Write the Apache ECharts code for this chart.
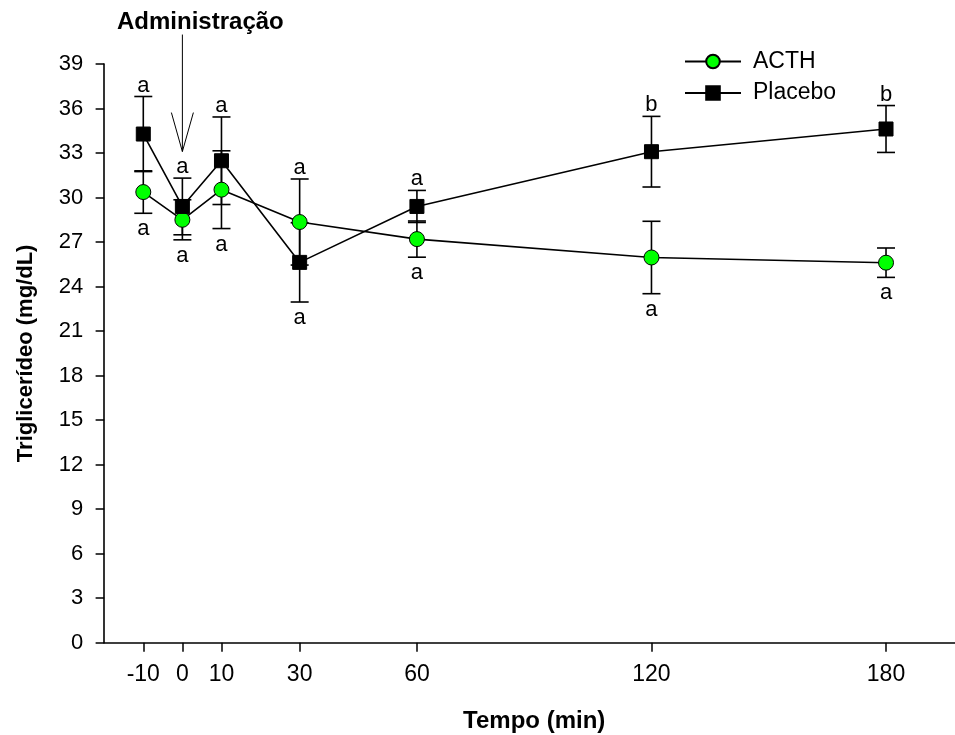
<!DOCTYPE html>
<html>
<head>
<meta charset="utf-8">
<script src="https://cdn.jsdelivr.net/npm/echarts@6/dist/echarts.min.js"></script>
<style>
html,body{margin:0;padding:0;background:#fff;}
#chart{width:955px;height:735px;}
</style>
</head>
<body>
<div id="chart"></div>
<script>
// ---- data ----
const times = [-10, 0, 10, 30, 60, 120, 180];
const acthMean = [30.37, 28.5, 30.53, 28.35, 27.2, 25.96, 25.61];
const acthErr = [1.43, 1.35, 2.62, 2.9, 1.22, 2.44, 0.99];
const placeboMean = [34.28, 29.4, 32.48, 25.63, 29.4, 33.09, 34.62];
const placeboErr = [2.53, 1.91, 2.95, 2.67, 1.08, 2.38, 1.58];
const topLetters = ['a', 'a', 'a', 'a', 'a', 'b', 'b'];
const bottomLetters = ['a', 'a', 'a', 'a', 'a', 'a', 'a'];
const xTicks = [-10, 0, 10, 30, 60, 120, 180];
const yTickStep = 3;
const annotationText = 'Administração';
const annotationPoint = [0, 33.1];

const FONT = '"Liberation Sans", Arial, sans-serif';

const chart = echarts.init(document.getElementById('chart'), null, {renderer: 'canvas'});

function errSeries(name, mean, err) {
  return {
    type: 'custom',
    name: name + ' err',
    clip: false,
    silent: true,
    data: times.map((t, i) => [t, mean[i] - err[i], mean[i] + err[i]]),
    encode: {x: 0, y: [1, 2]},
    renderItem: function (params, api) {
      const x = api.value(0);
      const lo = api.coord([x, api.value(1)]);
      const hi = api.coord([x, api.value(2)]);
      const w = 9;
      const st = {stroke: '#000', lineWidth: 1.6};
      return {
        type: 'group',
        children: [
          {type: 'line', shape: {x1: lo[0], y1: lo[1], x2: hi[0], y2: hi[1]}, style: st},
          {type: 'line', shape: {x1: hi[0] - w, y1: hi[1], x2: hi[0] + w, y2: hi[1]}, style: st},
          {type: 'line', shape: {x1: lo[0] - w, y1: lo[1], x2: lo[0] + w, y2: lo[1]}, style: st}
        ]
      };
    }
  };
}

const letterData = times.map((t, i) => [
  t,
  Math.max(acthMean[i] + acthErr[i], placeboMean[i] + placeboErr[i]),
  Math.min(acthMean[i] - acthErr[i], placeboMean[i] - placeboErr[i]),
  i
]);

const option = {
  animation: false,
  backgroundColor: '#fff',
  grid: {left: 104.2, right: -9.2, top: 64, bottom: 92.3, containLabel: false, outerBoundsMode: 'none'},
  legend: {
    data: ['ACTH', 'Placebo'],
    orient: 'vertical',
    left: 679,
    top: 45,
    itemWidth: 56,
    itemHeight: 17,
    itemGap: 8.5,
    textStyle: {fontFamily: FONT, fontSize: 23, color: '#000', padding: [0, 0, 0, 7]},
    selectedMode: false
  },
  xAxis: {
    type: 'value',
    min: -20,
    max: 200,
    name: 'Tempo (min)',
    nameLocation: 'middle',
    nameGap: 67,
    nameTextStyle: {fontFamily: FONT, fontSize: 24, fontWeight: 'bold', color: '#000'},
    axisLine: {show: true, onZero: false, lineStyle: {color: '#000', width: 1.6}},
    axisTick: {show: true, length: 9, customValues: xTicks, lineStyle: {color: '#000', width: 1.5}},
    axisLabel: {customValues: xTicks, fontFamily: FONT, fontSize: 23, color: '#000', margin: 20},
    splitLine: {show: false}
  },
  yAxis: {
    type: 'value',
    min: 0,
    max: 39,
    interval: yTickStep,
    name: 'Triglicerídeo (mg/dL)',
    nameLocation: 'middle',
    nameRotate: 90,
    nameGap: 67,
    nameTextStyle: {fontFamily: FONT, fontSize: 22, fontWeight: 'bold', color: '#000'},
    axisLine: {show: true, onZero: false, lineStyle: {color: '#000', width: 1.6}},
    axisTick: {show: true, length: 8.6, lineStyle: {color: '#000', width: 1.5}},
    axisLabel: {fontFamily: FONT, fontSize: 22, color: '#000', margin: 21},
    splitLine: {show: false}
  },
  series: [
    errSeries('ACTH', acthMean, acthErr),
    {
      type: 'line',
      name: 'ACTH',
      data: times.map((t, i) => [t, acthMean[i]]),
      symbol: 'circle',
      symbolSize: 15,
      lineStyle: {color: '#000', width: 1.6},
      itemStyle: {color: '#00ff00', borderColor: '#000', borderWidth: 1},
      clip: false
    },
    errSeries('Placebo', placeboMean, placeboErr),
    {
      type: 'line',
      name: 'Placebo',
      data: times.map((t, i) => [t, placeboMean[i]]),
      symbol: 'rect',
      symbolSize: 14,
      lineStyle: {color: '#000', width: 1.6},
      itemStyle: {color: '#000', borderColor: '#000', borderWidth: 1},
      clip: false
    },
    {
      type: 'custom',
      name: 'letters',
      clip: false,
      silent: true,
      data: letterData,
      encode: {x: 0, y: [1, 2]},
      renderItem: function (params, api) {
        const x = api.value(0);
        const i = api.value(3);
        const hi = api.coord([x, api.value(1)]);
        const lo = api.coord([x, api.value(2)]);
        const st = {fill: '#000', fontFamily: FONT, fontSize: 22, align: 'center', verticalAlign: 'middle'};
        return {
          type: 'group',
          children: [
            {type: 'text', x: hi[0], y: hi[1] - 11, style: Object.assign({text: topLetters[i]}, st)},
            {type: 'text', x: lo[0], y: lo[1] + 16, style: Object.assign({text: bottomLetters[i]}, st)}
          ]
        };
      }
    },
    {
      type: 'custom',
      name: 'annotation',
      clip: false,
      silent: true,
      data: [annotationPoint],
      encode: {x: 0, y: 1},
      renderItem: function (params, api) {
        const tip = api.coord([api.value(0), api.value(1)]);
        const st = {stroke: '#000', lineWidth: 1};
        return {
          type: 'group',
          children: [
            {type: 'line', shape: {x1: tip[0], y1: tip[1] - 117, x2: tip[0], y2: tip[1]}, style: st},
            {type: 'line', shape: {x1: tip[0] - 11, y1: tip[1] - 39, x2: tip[0], y2: tip[1]}, style: st},
            {type: 'line', shape: {x1: tip[0] + 11, y1: tip[1] - 39, x2: tip[0], y2: tip[1]}, style: st},
            {type: 'text', x: tip[0] + 18, y: tip[1] - 129, style: {text: annotationText, fill: '#000', fontFamily: FONT, fontSize: 24, fontWeight: 'bold', align: 'center', verticalAlign: 'middle'}}
          ]
        };
      }
    }
  ]
};
chart.setOption(option);
</script>
</body>
</html>
